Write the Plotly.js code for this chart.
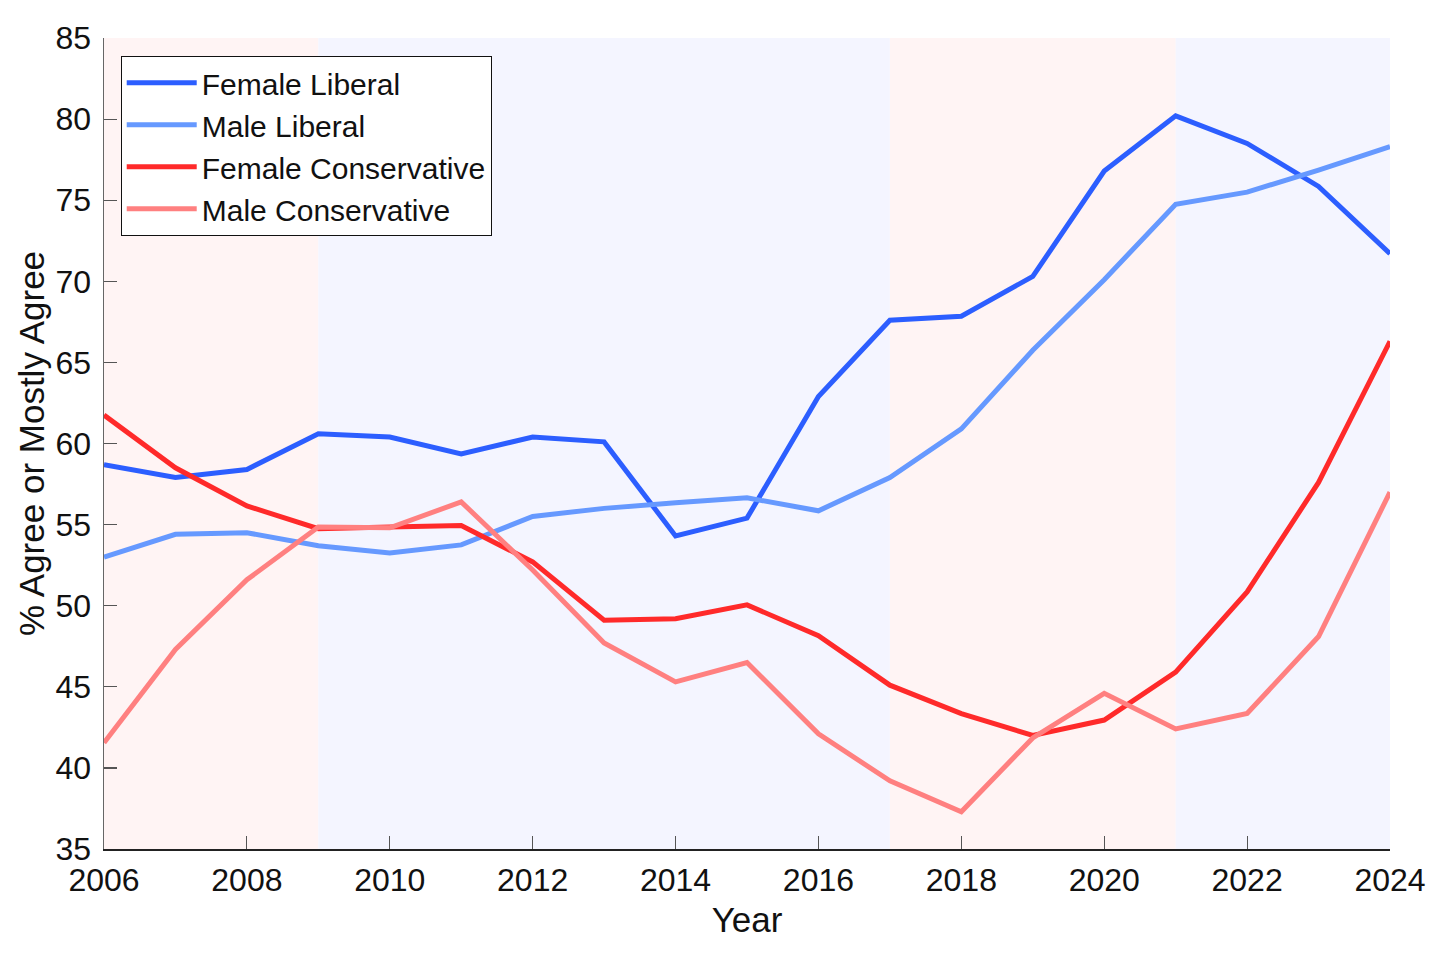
<!DOCTYPE html>
<html>
<head>
<meta charset="utf-8">
<script src="https://cdn.plot.ly/plotly-3.0.1.min.js"></script>
<style>
html,body{margin:0;padding:0;background:#fff;}
#chart{width:1456px;height:959px;}
</style>
</head>
<body>
<div id="chart"></div>
<script>
const years = [2006,2007,2008,2009,2010,2011,2012,2013,2014,2015,2016,2017,2018,2019,2020,2021,2022,2023,2024];
const femaleLiberal = [58.7,57.9,58.4,60.6,60.4,59.35,60.4,60.1,54.3,55.4,62.9,67.6,67.85,70.3,76.8,80.2,78.5,75.85,71.7];
const maleLiberal = [53.0,54.4,54.5,53.7,53.25,53.75,55.5,56.0,56.35,56.65,55.85,57.9,60.9,65.75,70.1,74.75,75.5,76.85,78.3];
const femaleConservative = [61.75,58.5,56.15,54.75,54.85,54.95,52.7,49.1,49.2,50.05,48.15,45.1,43.35,42.0,42.95,45.9,50.85,57.6,66.3];
const maleConservative = [41.55,47.3,51.6,54.85,54.8,56.4,52.2,47.7,45.3,46.5,42.1,39.2,37.3,41.85,44.6,42.4,43.35,48.1,57.0];

const seriesNames = ["Female Liberal","Male Liberal","Female Conservative","Male Conservative"];
const xTickVals = [2006,2008,2010,2012,2014,2016,2018,2020,2022,2024];
const yTickVals = [35,40,45,50,55,60,65,70,75,80,85];
const periodStart = [2006,2009,2017,2021];
const periodEnd = [2009,2017,2021,2024];
const periodParty = ["R","D","R","D"];

const colors = ["#2c5eff","#6699ff","#ff2a2a","#ff8080"];
const seriesValues = [femaleLiberal, maleLiberal, femaleConservative, maleConservative];

const traces = seriesValues.map((vals,i)=>({
  x: years, y: vals, name: seriesNames[i], type:'scatter', mode:'lines',
  line:{color:colors[i], width:5}
}));

const shapes = periodStart.map((s,i)=>({
  type:'rect', xref:'x', yref:'paper', x0:s, x1:periodEnd[i], y0:0, y1:1,
  fillcolor: periodParty[i]==='R' ? '#fff4f4' : '#f4f5ff',
  line:{width:0}, layer:'below'
}));

const font = "'Liberation Sans', Arial, Helvetica, sans-serif";

const layout = {
  width:1456, height:959,
  margin:{l:104, r:66, t:38, b:110},
  paper_bgcolor:'#ffffff', plot_bgcolor:'#ffffff',
  font:{family:font, color:'#111', size:32},
  showlegend:true,
  legend:{x:0.013, y:0.978, xanchor:'left', yanchor:'top',
    bgcolor:'#ffffff', bordercolor:'#111', borderwidth:1,
    font:{family:font, size:30, color:'#111'}, itemwidth:70, tracegroupgap:0},
  xaxis:{
    range:[2006,2024], tickmode:'array', tickvals:xTickVals,
    ticks:'inside', ticklen:13, tickcolor:'#555', tickwidth:1.2,
    showline:true, linecolor:'#222', linewidth:1.5, showgrid:false, zeroline:false,
    tickfont:{family:font, size:32, color:'#111'}, ticklabelstandoff:2,
    title:{text:'Year', font:{family:font, size:35, color:'#111'}, standoff:10}
  },
  yaxis:{
    range:[35,85], tickmode:'array', tickvals:yTickVals,
    ticks:'inside', ticklen:13, tickcolor:'#555', tickwidth:1.2,
    showline:true, linecolor:'#666', linewidth:1.5, showgrid:false, zeroline:false,
    tickfont:{family:font, size:32, color:'#111'}, ticklabelstandoff:5,
    title:{text:'% Agree or Mostly Agree', font:{family:font, size:35, color:'#111'}, standoff:0}
  },
  shapes: shapes
};

Plotly.newPlot('chart', traces, layout, {displayModeBar:false, staticPlot:true});
</script>
</body>
</html>
